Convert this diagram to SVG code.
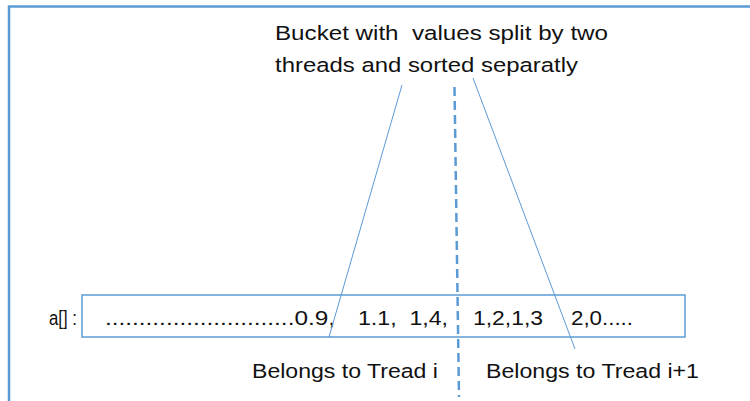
<svg xmlns="http://www.w3.org/2000/svg" width="750" height="401" viewBox="0 0 750 401">
<style>
.t{font-family:"Liberation Sans",Arial,sans-serif;font-size:20.5px;fill:#111}
.frame{fill:none;stroke:#5b9bd5;stroke-width:2.5}
.box{fill:#fff;stroke:#5b9bd5;stroke-width:1.5}
.thin{stroke:#5b9bd5;stroke-width:1;fill:none}
.dash{stroke:#5b9bd5;stroke-width:2.5;stroke-dasharray:9 5;fill:none}
</style>
<rect width="750" height="401" fill="#fff"/>
<rect class="frame" x="9" y="6.5" width="760" height="420"/>
<g id="title">
<text class="t" x="275" y="40" textLength="333" lengthAdjust="spacingAndGlyphs" xml:space="preserve">Bucket with  values split by two</text>
<text class="t" x="275" y="72" textLength="303" lengthAdjust="spacingAndGlyphs">threads and sorted separatly</text>
</g>
<g id="label-a">
<text class="t" x="49" y="325" textLength="28" lengthAdjust="spacingAndGlyphs">a[] :</text>
</g>
<g id="array">
<rect class="box" x="82" y="295" width="603" height="42"/>
<text class="t" x="105" y="325" textLength="230" lengthAdjust="spacingAndGlyphs">............................0.9,</text>
<text class="t" x="358" y="325" textLength="90" lengthAdjust="spacingAndGlyphs" xml:space="preserve">1.1,  1,4,</text>
<text class="t" x="473" y="325" textLength="70" lengthAdjust="spacingAndGlyphs">1,2,1,3</text>
<text class="t" x="571" y="325" textLength="62" lengthAdjust="spacingAndGlyphs">2,0.....</text>
</g>
<g id="belongs-i">
<text class="t" x="252" y="378" textLength="186" lengthAdjust="spacingAndGlyphs">Belongs to Tread i</text>
</g>
<g id="belongs-i1">
<text class="t" x="486" y="378" textLength="213" lengthAdjust="spacingAndGlyphs">Belongs to Tread i+1</text>
</g>
<g id="connectors">
<line class="thin" x1="402" y1="85" x2="329" y2="337"/>
<line class="thin" x1="473" y1="78" x2="575" y2="349"/>
<line class="dash" x1="454.5" y1="87" x2="459" y2="397"/>
</g>
</svg>
